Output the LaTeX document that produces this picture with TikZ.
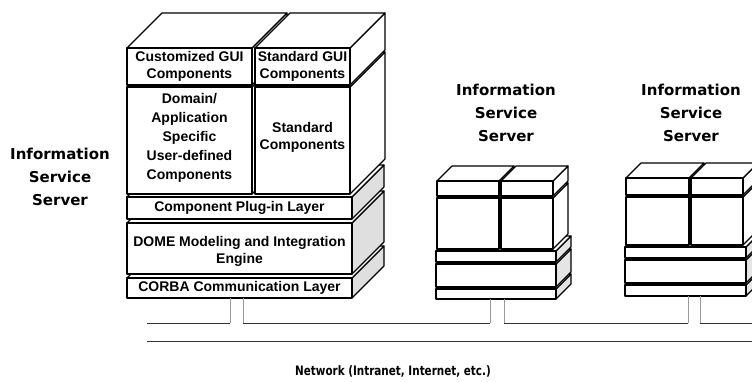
\documentclass[tikz,border=0pt]{standalone}
\usepackage{fontspec}
\setmainfont{Liberation Sans}
\newfontfamily\labelfont{DejaVu Sans}
\newfontfamily\netfont{DejaVu Sans}[FakeStretch=0.8]
\usetikzlibrary{positioning,calc}

% one slab of a stack: front top left x,y / front bottom right x,y / depth / side fill
\newcommand{\stackslab}[6]{%
  \draw[face, fill=#6] (#3,#2) -- ++(#5,-#5) -- ({#3+#5},{#4-#5}) -- (#3,#4) -- cycle;
  \draw[face, fill=white] (#1,#2) -- ++(#5,-#5) -- ({#3+#5},{#2-#5}) -- (#3,#2) -- cycle;
  \draw[face, fill=white] (#1,#2) rectangle (#3,#4);
}

\begin{document}
\begin{tikzpicture}[
  x=1pt, y=-1pt,
  face/.style={draw=black, line width=1.1pt, line join=round},
  slabtext/.style={font={\bfseries\fontsize{14}{17}\selectfont}, align=center, inner sep=0pt},
  srvlabel/.style={font={\labelfont\bfseries\fontsize{15}{23}\selectfont}, align=center, inner sep=0pt},
  netlabel/.style={font={\netfont\bfseries\fontsize{13}{15}\selectfont}, inner sep=0pt},
  bus/.style={line width=0.9pt, black!80},
  pipe/.style={line width=0.8pt, black!40}
]
  \useasboundingbox (0,0) rectangle (752,382);
  \clip (0,0) rectangle (752,382);

  % main server stack
  \stackslab{127}{278}{352}{298}{32}{gray!25}
  \stackslab{127}{223}{352}{274}{32}{gray!25}
  \stackslab{127}{197}{352}{219}{32}{gray!25}
  \stackslab{127}{87}{252}{194}{35}{white}
  \stackslab{255}{87}{350}{194}{35}{white}
  \stackslab{127}{48}{252}{85}{35}{white}
  \stackslab{255}{48}{350}{85}{35}{white}

  \node[slabtext] (cgui) at (189.5,66.5) {Customized GUI\\Components};
  \node[slabtext] (sgui) at (302.5,66.5) {Standard GUI\\Components};
  \node[slabtext, font={\bfseries\fontsize{14}{19}\selectfont}] (domain) at (189.5,138) {Domain/\\Application\\Specific\\User-defined\\Components};
  \node[slabtext] (stdcomp) at (302.5,137) {Standard\\Components};
  \node[slabtext] (plugin) at (239.5,208) {Component Plug-in Layer};
  \node[slabtext] (dome) at (239.5,251) {DOME Modeling and Integration\\Engine};
  \node[slabtext] (corba) at (239.5,288) {CORBA Communication Layer};

  % second server
  \stackslab{436}{289}{556}{299}{15}{gray!20}
  \stackslab{436}{264}{556}{287}{15}{gray!20}
  \stackslab{436}{251}{556}{262}{15}{gray!20}
  \stackslab{437}{198}{499}{249}{15}{white}
  \stackslab{501}{198}{553}{249}{15}{white}
  \stackslab{437}{181}{499}{196}{15}{white}
  \stackslab{501}{181}{553}{196}{15}{white}

  % third server
  \stackslab{625}{285}{746}{296}{15}{gray!20}
  \stackslab{625}{260}{746}{283}{15}{gray!20}
  \stackslab{625}{247}{746}{258}{15}{gray!20}
  \stackslab{626}{197}{689}{245}{15}{white}
  \stackslab{691}{197}{743}{245}{15}{white}
  \stackslab{626}{178}{689}{195}{15}{white}
  \stackslab{691}{178}{743}{195}{15}{white}

  % labels
  \node[srvlabel] (srvA) at (60,177) {Information\\Service\\Server};
  \node[srvlabel] (srvB) at (506,113) {Information\\Service\\Server};
  \node[srvlabel] (srvC) at (691,113) {Information\\Service\\Server};
  \node[netlabel] (net) at (393,371) {Network (Intranet, Internet, etc.)};

  % network bus and drops
  \foreach \xa/\xb/\yt in {230/243/298, 490/504/299, 688/700/296} {
    \draw[pipe] (\xa,\yt) -- (\xa,323);
    \draw[pipe] (\xb,\yt) -- (\xb,323);
  }
  \draw[bus] (147,323) -- (230,323) (243,323) -- (490,323)
             (504,323) -- (688,323) (700,323) -- (752,323);
  \draw[bus] (147,341) -- (752,341);
\end{tikzpicture}
\end{document}
